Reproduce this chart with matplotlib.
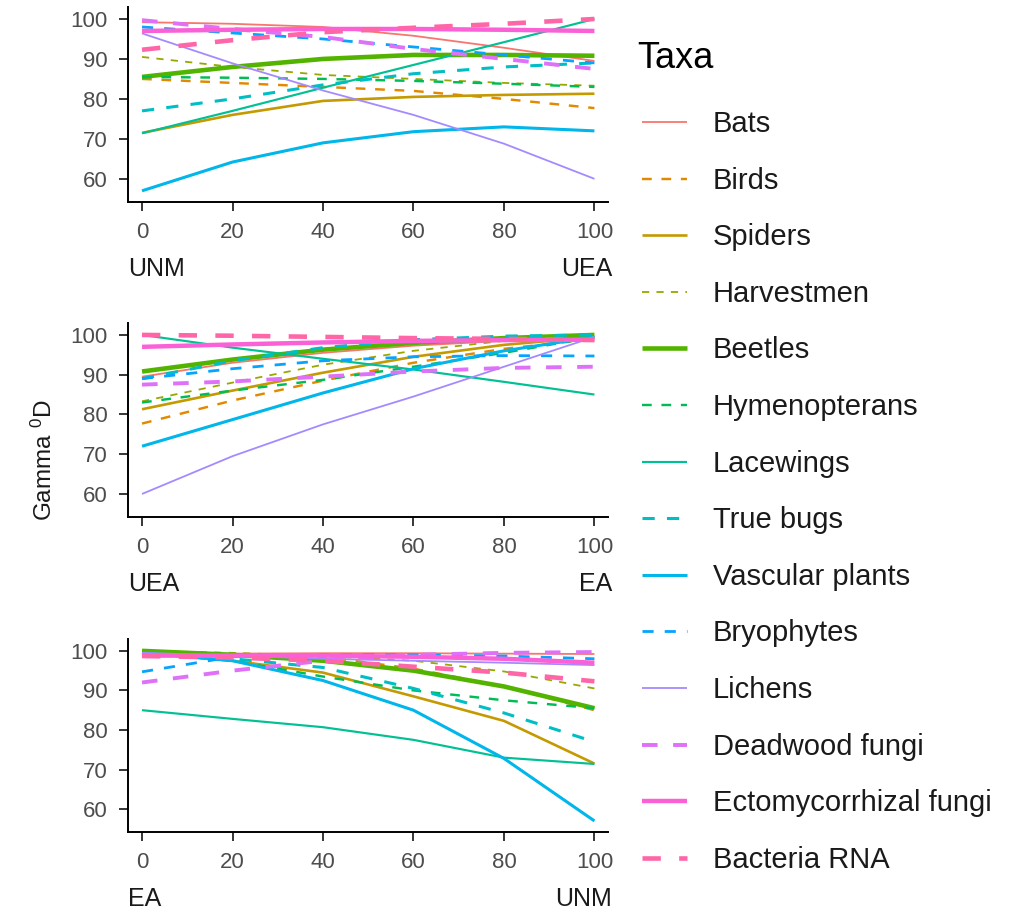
import matplotlib.pyplot as plt
from matplotlib.lines import Line2D

plt.rcParams["font.family"] = ["Liberation Sans", "DejaVu Sans"]
plt.rcParams["mathtext.default"] = "regular"

taxa = ["Bats", "Birds", "Spiders", "Harvestmen", "Beetles", "Hymenopterans",
        "Lacewings", "True bugs", "Vascular plants", "Bryophytes", "Lichens",
        "Deadwood fungi", "Ectomycorrhizal fungi", "Bacteria RNA"]

# share of the forest converted (%)
percent = [0, 20, 40, 60, 80, 100]

# gamma diversity (order 0) along each conversion path
unm_to_uea = [
    [99.2, 98.8, 98.0, 95.8, 92.8, 89.5],
    [85.0, 84.0, 83.0, 82.0, 80.0, 77.7],
    [71.5, 76.0, 79.5, 80.5, 81.0, 81.3],
    [90.5, 88.0, 86.0, 85.0, 84.0, 83.3],
    [85.5, 88.0, 90.0, 91.0, 91.0, 90.8],
    [85.5, 85.3, 85.0, 84.5, 83.8, 83.0],
    [71.4, 77.0, 82.8, 88.5, 94.2, 100.0],
    [77.0, 80.0, 83.5, 86.3, 88.0, 89.0],
    [57.0, 64.2, 69.0, 71.8, 73.0, 72.0],
    [98.0, 96.5, 95.0, 93.0, 91.0, 89.0],
    [96.4, 88.9, 82.1, 76.0, 68.8, 60.0],
    [99.7, 97.5, 95.5, 92.5, 90.0, 87.5],
    [97.0, 97.3, 97.5, 97.5, 97.3, 97.0],
    [92.3, 94.7, 96.7, 97.8, 98.8, 100.0],
]

uea_to_ea = [
    [89.5, 93.0, 95.5, 97.3, 98.5, 99.2],
    [77.7, 83.5, 88.5, 93.0, 96.5, 99.0],
    [81.3, 86.0, 90.5, 94.5, 97.5, 99.5],
    [83.3, 88.0, 92.5, 96.0, 98.5, 100.0],
    [90.8, 93.8, 96.3, 98.0, 99.2, 100.0],
    [83.0, 86.0, 88.7, 92.0, 95.5, 99.5],
    [100.0, 96.8, 94.0, 91.3, 88.2, 85.0],
    [89.0, 93.5, 96.8, 98.8, 99.7, 100.0],
    [72.0, 78.7, 85.4, 91.5, 96.0, 99.5],
    [89.0, 91.5, 93.5, 94.5, 94.8, 94.7],
    [60.0, 69.5, 77.5, 84.5, 92.0, 99.5],
    [87.5, 88.3, 89.5, 90.8, 91.7, 92.0],
    [97.0, 97.6, 98.1, 98.5, 98.7, 98.8],
    [100.0, 99.8, 99.5, 99.2, 99.0, 98.7],
]

ea_to_unm = [
    [99.2, 99.3, 99.4, 99.4, 99.3, 99.2],
    [99.3, 99.0, 98.5, 95.5, 91.0, 85.0],
    [99.5, 97.5, 94.5, 88.5, 82.3, 71.5],
    [100.0, 99.5, 98.7, 97.5, 94.8, 90.5],
    [100.0, 99.0, 97.5, 95.0, 91.0, 85.5],
    [99.5, 97.5, 93.5, 90.0, 87.5, 85.5],
    [85.0, 82.8, 80.7, 77.5, 73.0, 71.4],
    [99.5, 98.0, 95.8, 90.5, 84.3, 77.0],
    [99.5, 97.5, 92.5, 85.0, 72.8, 57.0],
    [94.7, 98.5, 99.0, 99.0, 98.7, 98.0],
    [99.5, 98.8, 98.0, 97.5, 97.0, 96.4],
    [92.0, 95.0, 97.5, 99.0, 99.5, 99.7],
    [98.8, 98.8, 98.8, 98.5, 98.0, 97.0],
    [98.7, 98.3, 97.5, 96.0, 94.5, 92.3],
]

colors = ["#F8766D", "#E38900", "#C49A00", "#99A800", "#53B400", "#00BC56",
          "#00C094", "#00BFC4", "#00B6EB", "#06A4FF", "#A58AFF", "#DF70F8",
          "#FB61D7", "#FF66A8"]
widths = [1.3, 1.75, 1.9, 1.3, 3.3, 1.75, 1.55, 2.2, 2.2, 2.0, 1.3, 2.8, 3.2, 3.3]
dashed = [False, True, False, True, False, True, False,
          True, False, True, False, True, False, True]

W, H = 1009, 911
fig = plt.figure(figsize=(W / 100, H / 100), dpi=100)

panels = [
    (unm_to_uea, "UNM", "UEA", 7, 202),
    (uea_to_ea, "UEA", "EA", 323, 517),
    (ea_to_unm, "EA", "UNM", 639, 832),
]

for values, start, end, top, bottom in panels:
    ax = fig.add_axes([128 / W, 1 - bottom / H, 480 / W, (bottom - top) / H])
    for ys, c, lw, d in zip(values, colors, widths, dashed):
        ax.plot(percent, ys, color=c, lw=lw, ls=(0, (4, 4)) if d else "-",
                solid_capstyle="butt", dash_capstyle="butt")
    ax.set_xlim(-3.1, 103)
    ax.set_ylim(54.2, 103)
    ax.set_xticks(percent)
    ax.set_yticks([60, 70, 80, 90, 100])
    for side in ["top", "right"]:
        ax.spines[side].set_visible(False)
    for side in ["left", "bottom"]:
        ax.spines[side].set_linewidth(1.4)
    ax.tick_params(length=6.5, width=1.1, labelsize=16, labelcolor="#4D4D4D", pad=8)
    ax.annotate(start, xy=(0, 0), xycoords="axes fraction", xytext=(0, -48),
                textcoords="offset points", ha="left", va="center", fontsize=18,
                color="#1A1A1A")
    ax.annotate(end, xy=(1, 0), xycoords="axes fraction", xytext=(3, -48),
                textcoords="offset points", ha="right", va="center", fontsize=18,
                color="#1A1A1A")

fig.text(44 / W, 1 - 460 / H, "Gamma $^{0}$D", rotation=90, ha="center",
         va="center", fontsize=17.5, color="#1A1A1A")

# legend drawn by hand at the right
fig.text(637 / W, 1 - (55 + 13) / H, "Taxa", fontsize=26, va="baseline")
for i, (name, c, lw, d) in enumerate(zip(taxa, colors, widths, dashed)):
    yc = 122 + 56.6 * i
    fig.add_artist(Line2D([642 / W, 687 / W], [1 - yc / H, 1 - yc / H],
                          transform=fig.transFigure, color=c, lw=lw,
                          ls=(0, (4, 4)) if d else "-",
                          solid_capstyle="butt", dash_capstyle="butt"))
    fig.text(713 / W, 1 - (yc + 10) / H, name, fontsize=21, va="baseline",
             color="#1A1A1A")

fig.savefig("out.png", dpi=100)
